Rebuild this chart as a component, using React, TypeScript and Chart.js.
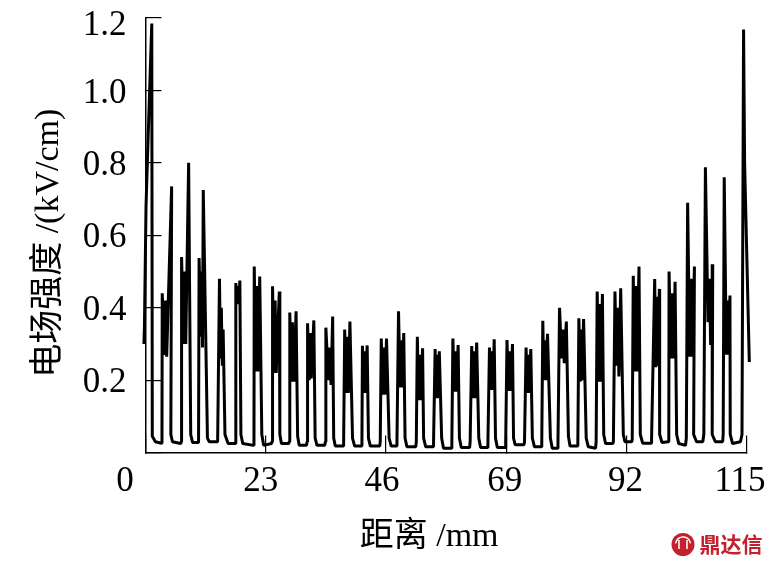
import { useEffect, useRef } from "react";
import { Chart, registerables } from "chart.js";

Chart.register(...registerables);

const LATIN_CJK = '"Liberation Serif", "Noto Sans CJK SC", serif';
const xTicksShown = [0, 23, 46, 69, 92, 115];
const yTicksShown = [0, 0.2, 0.4, 0.6, 0.8, 1.0, 1.2];
const xAxisTitle = "距离 /mm";
const yAxisTitle = "电场强度 /(kV/cm)";

// each row: one gap between electrodes
const distance = [
  -0.3, -0.2, 0.1, 0.35, 1.2, 1.3, 1.9, 3.05,
  3.15, 3.2, 3.7, 3.85, 4.05, 5.0, 4.85, 5.15, 6.75,
  6.85, 6.9, 7.3, 7.5, 7.7, 8.25, 8.65, 9.0, 10.05,
  10.15, 10.25, 10.6, 10.75, 10.9, 11.05, 11.85, 12.2, 13.65,
  13.8, 14.15, 14.35, 14.5, 14.7, 14.85, 15.2, 15.8, 17.15,
  17.25, 17.3, 17.55, 17.7, 17.85, 18.05, 18.25, 18.6, 20.65,
  20.75, 20.8, 21.1, 21.3, 21.5, 21.85, 22.25, 22.6, 24.1,
  24.2, 24.3, 24.6, 24.8, 25.0, 25.6, 25.7, 26.0, 27.4,
  27.5, 27.6, 27.9, 28.1, 28.4, 28.8, 29.1, 29.4, 30.8,
  30.9, 31.0, 31.3, 31.5, 31.7, 32.2, 32.45, 32.8, 34.3,
  34.4, 34.5, 35.0, 35.2, 35.5, 35.8, 36.0, 36.3, 37.8,
  37.9, 38.1, 38.4, 38.6, 38.8, 39.1, 39.6, 40.0, 41.3,
  41.4, 41.5, 41.7, 41.9, 42.1, 42.4, 42.65, 43.0, 44.8,
  44.9, 45.1, 45.35, 45.6, 45.8, 46.1, 46.6, 47.0, 48.0,
  48.1, 48.4, 48.7, 48.9, 49.1, 49.4, 49.65, 50.0, 51.7,
  51.8, 52.0, 52.25, 52.5, 52.7, 53.0, 53.2, 53.6, 55.0,
  55.1, 55.4, 55.6, 55.8, 56.0, 56.2, 56.65, 57.0, 58.5,
  58.6, 58.8, 59.05, 59.3, 59.5, 59.8, 60.05, 60.4, 62.0,
  62.1, 62.4, 62.6, 62.8, 63.0, 63.35, 63.75, 64.1, 65.4,
  65.5, 65.8, 66.0, 66.25, 66.45, 66.7, 66.95, 67.3, 68.8,
  68.9, 69.15, 69.4, 69.65, 69.85, 70.2, 70.4, 70.7, 72.4,
  72.5, 72.8, 73.0, 73.2, 73.4, 73.7, 74.0, 74.4, 75.7,
  75.8, 76.0, 76.2, 76.4, 76.6, 76.9, 77.45, 77.8, 78.8,
  78.9, 79.2, 79.6, 79.85, 80.1, 80.5, 80.9, 81.2, 82.6,
  82.7, 82.9, 83.15, 83.3, 83.5, 83.8, 84.3, 84.7, 86.1,
  86.2, 86.4, 86.7, 86.9, 87.1, 87.4, 87.65, 88.0, 89.4,
  89.5, 89.8, 90.1, 90.4, 90.55, 90.9, 91.4, 91.7, 93.0,
  93.1, 93.3, 93.6, 93.8, 94.0, 94.4, 94.65, 95.1, 96.7,
  96.8, 97.4, 97.6, 97.8, 98.0, 98.3, 98.35, 98.8, 100.0,
  100.1, 100.15, 100.5, 100.8, 101.0, 101.3, 101.6, 102.0, 103.3,
  103.45, 103.7, 104.1, 104.4, 104.6, 105.0, 104.85, 105.4, 106.6,
  106.8, 107.1, 107.6, 107.9, 108.1, 108.5, 108.4, 109.0, 110.4,
  110.5, 110.7, 111.1, 111.3, 111.5, 111.8, 111.85, 112.3, 113.8,
  114.1, 114.4, 114.6, 115.5,
];

const field = [
  0.3, 0.35, 0.68, 0.8, 1.185, 0.045, 0.03, 0.026,
  0.03, 0.44, 0.27, 0.42, 0.265, 0.735, 0.05, 0.03, 0.025,
  0.03, 0.54, 0.3, 0.5, 0.3, 0.8, 0.05, 0.028, 0.028,
  0.03, 0.537, 0.32, 0.5, 0.29, 0.725, 0.04, 0.03, 0.03,
  0.03, 0.48, 0.26, 0.4, 0.24, 0.34, 0.05, 0.025, 0.025,
  0.03, 0.468, 0.41, 0.46, 0.41, 0.475, 0.05, 0.025, 0.02,
  0.03, 0.514, 0.224, 0.46, 0.224, 0.486, 0.05, 0.02, 0.025,
  0.03, 0.459, 0.22, 0.42, 0.22, 0.445, 0.05, 0.025, 0.025,
  0.03, 0.387, 0.196, 0.36, 0.196, 0.39, 0.045, 0.02, 0.02,
  0.03, 0.357, 0.2, 0.33, 0.205, 0.365, 0.04, 0.02, 0.02,
  0.03, 0.345, 0.2, 0.29, 0.187, 0.376, 0.04, 0.018, 0.018,
  0.03, 0.34, 0.165, 0.32, 0.165, 0.362, 0.04, 0.018, 0.018,
  0.03, 0.295, 0.165, 0.28, 0.165, 0.296, 0.04, 0.018, 0.018,
  0.03, 0.315, 0.16, 0.29, 0.16, 0.315, 0.04, 0.018, 0.018,
  0.03, 0.39, 0.18, 0.31, 0.18, 0.33, 0.04, 0.016, 0.016,
  0.03, 0.32, 0.145, 0.27, 0.145, 0.288, 0.04, 0.016, 0.016,
  0.03, 0.286, 0.15, 0.27, 0.15, 0.28, 0.04, 0.012, 0.012,
  0.03, 0.315, 0.168, 0.28, 0.168, 0.297, 0.04, 0.014, 0.014,
  0.03, 0.294, 0.15, 0.28, 0.15, 0.304, 0.04, 0.014, 0.014,
  0.03, 0.29, 0.173, 0.28, 0.173, 0.313, 0.04, 0.014, 0.014,
  0.03, 0.311, 0.17, 0.28, 0.17, 0.3, 0.04, 0.022, 0.022,
  0.03, 0.29, 0.165, 0.27, 0.165, 0.286, 0.04, 0.016, 0.016,
  0.03, 0.364, 0.2, 0.31, 0.2, 0.328, 0.04, 0.012, 0.012,
  0.03, 0.4, 0.26, 0.34, 0.247, 0.362, 0.045, 0.018, 0.018,
  0.03, 0.371, 0.2, 0.34, 0.2, 0.369, 0.04, 0.016, 0.012,
  0.03, 0.445, 0.196, 0.41, 0.196, 0.438, 0.05, 0.025, 0.025,
  0.03, 0.445, 0.24, 0.4, 0.21, 0.454, 0.05, 0.03, 0.03,
  0.035, 0.488, 0.224, 0.46, 0.224, 0.514, 0.05, 0.026, 0.026,
  0.035, 0.479, 0.236, 0.43, 0.24, 0.452, 0.05, 0.028, 0.03,
  0.04, 0.5, 0.26, 0.44, 0.26, 0.472, 0.05, 0.025, 0.02,
  0.04, 0.69, 0.265, 0.48, 0.265, 0.514, 0.05, 0.03, 0.03,
  0.05, 0.788, 0.36, 0.48, 0.297, 0.52, 0.05, 0.03, 0.03,
  0.05, 0.76, 0.27, 0.42, 0.27, 0.434, 0.05, 0.025, 0.03,
  0.05, 1.168, 0.8, 0.25,
];

const xLabelShift = [-20.5, -5, -4, -1.5, -1, -6.7];
const yLabelShift = [0, 3, 3, 3, 3, 3, 8];
const xTitleShift = -17;
const yTitleShift = 8;

const zeroPadding = (s: any) => {
  s.paddingLeft = 0;
  s.paddingRight = 0;
  s.paddingTop = 0;
  s.paddingBottom = 0;
};

const logoPlugin = {
  id: "logoAndLabels",
  beforeDraw(chart: any) {
    const xs = chart.scales.x;
    xs.getLabelItems().forEach((it: any, i: number) => {
      it.options.translation[0] = xs.getPixelForTick(i) + (xLabelShift[i] ?? 0);
    });
    const ys = chart.scales.y;
    ys.getLabelItems().forEach((it: any, i: number) => {
      it.options.translation[1] = ys.getPixelForTick(i) + (yLabelShift[i] ?? 0);
    });
    if (!xs.__titleShifted) {
      xs.__titleShifted = true;
      const drawX = xs.drawTitle.bind(xs);
      xs.drawTitle = () => {
        xs.left += xTitleShift;
        xs.right += xTitleShift;
        drawX();
        xs.left -= xTitleShift;
        xs.right -= xTitleShift;
      };
      const drawY = ys.drawTitle.bind(ys);
      ys.drawTitle = () => {
        ys.top += yTitleShift;
        ys.bottom += yTitleShift;
        drawY();
        ys.top -= yTitleShift;
        ys.bottom -= yTitleShift;
      };
    }
  },
  afterDraw(chart: any) {
    const c = chart.ctx;
    c.save();
    const red = "#c4202e";
    c.fillStyle = red;
    c.beginPath();
    c.arc(683, 544.5, 11.5, 0, Math.PI * 2);
    c.fill();
    c.strokeStyle = "#fff";
    c.lineWidth = 1.5;
    c.beginPath();
    c.arc(683, 544.5, 7.5, Math.PI * 1.05, Math.PI * 1.95);
    c.stroke();
    c.beginPath();
    c.moveTo(679, 540);
    c.lineTo(679, 549);
    c.moveTo(687, 540);
    c.lineTo(687, 549);
    c.stroke();
    c.font = 'bold 21px "Noto Sans CJK SC"';
    c.textAlign = "left";
    c.textBaseline = "middle";
    c.fillText("鼎达信", 699.5, 544.5);
    c.restore();
  },
};

export default function App() {
  const ref = useRef<HTMLCanvasElement>(null);
  useEffect(() => {
    const chart = new Chart(ref.current!, {
      type: "line",
      data: {
        datasets: [
          {
            data: distance.map((x, i) => ({ x, y: field[i] })),
            borderColor: "#000",
            borderWidth: 3,
            borderJoinStyle: "bevel",
            pointRadius: 0,
            tension: 0,
            clip: false,
          },
        ],
      },
      options: {
        responsive: false,
        animation: false,
        events: [],
        layout: { padding: { left: 0, right: 26.3, top: 18, bottom: 0 } },
        plugins: { legend: { display: false }, tooltip: { enabled: false }, title: { display: false } },
        scales: {
          x: {
            type: "linear",
            min: 0,
            max: 115,
            afterBuildTicks: (s: any) => {
              s.ticks = xTicksShown.map((value) => ({ value }));
            },
            afterFit: (s: any) => {
              s.height = 567 - 452.6;
              zeroPadding(s);
            },
            border: { color: "#000", width: 1.5 },
            grid: { drawOnChartArea: false, tickLength: -17, color: "#000", lineWidth: 1.2 },
            ticks: {
              color: "#000",
              autoSkip: false,
              maxRotation: 0,
              padding: 25,
              font: { family: LATIN_CJK, size: 35 },
            },
            title: {
              display: true,
              text: xAxisTitle,
              color: "#000",
              font: { family: LATIN_CJK, size: 34 },
              padding: { top: 0, bottom: 10 },
            },
          },
          y: {
            min: 0,
            max: 1.2,
            afterBuildTicks: (s: any) => {
              s.ticks = yTicksShown.map((value) => ({ value }));
            },
            afterFit: (s: any) => {
              s.width = 145.5;
              zeroPadding(s);
            },
            border: { color: "#000", width: 1.5 },
            grid: { drawOnChartArea: false, tickLength: -16, color: "#000", lineWidth: 1.2 },
            ticks: {
              color: "#000",
              padding: 35,
              autoSkip: false,
              font: { family: LATIN_CJK, size: 35 },
              callback: (v: any) => (v === 0 ? "" : Number(v).toFixed(1)),
            },
            title: {
              display: true,
              text: yAxisTitle,
              color: "#000",
              font: { family: LATIN_CJK, size: 34 },
              padding: { top: 29, bottom: 0 },
            },
          },
        },
      },
      plugins: [logoPlugin],
    } as any);
    return () => chart.destroy();
  }, []);
  return (
    <div style={{ position: "absolute", left: 0, top: 0, width: 773, height: 567, background: "#fff" }}>
      <canvas ref={ref} width={773} height={567} style={{ display: "block" }} />
    </div>
  );
}
